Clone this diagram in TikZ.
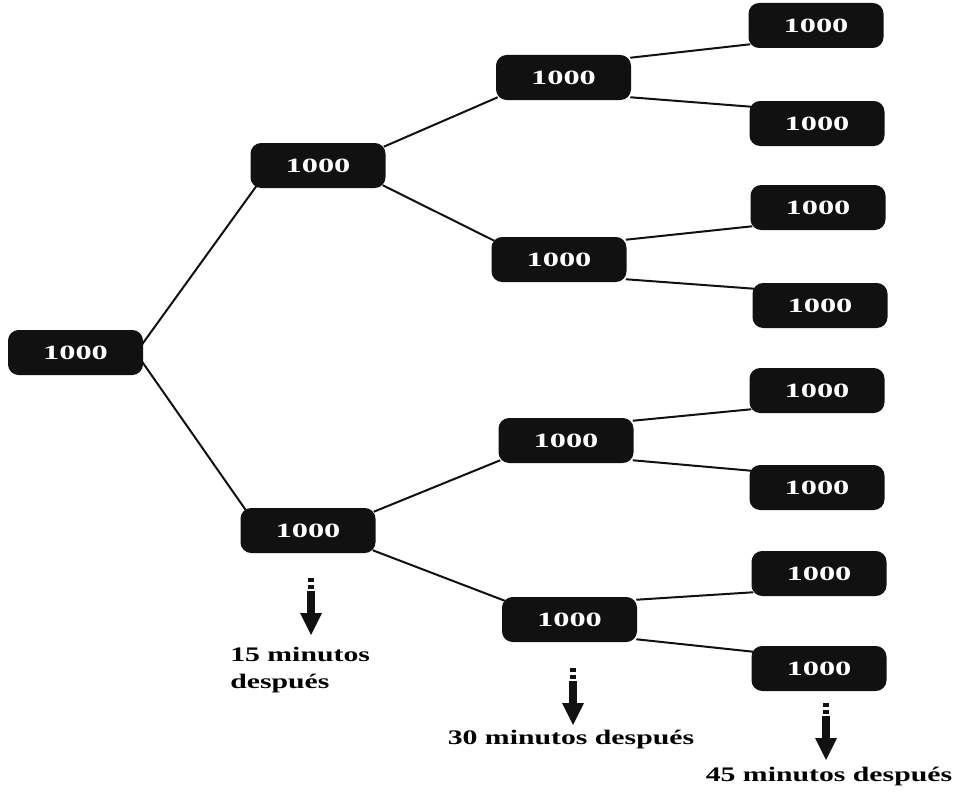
\documentclass[tikz,border=0pt]{standalone}
\usepackage{fontspec}
\usetikzlibrary{calc}
\newfontfamily\nodefont[FakeStretch=1.6]{Liberation Serif}
\newfontfamily\capfont[FakeStretch=1.44]{Liberation Serif}
\definecolor{boxblack}{HTML}{111111}
\tikzset{
  countbox/.style={fill=boxblack, rounded corners=8pt, minimum width=101.25pt,
    minimum height=33.75pt, inner sep=0pt, text=white,
    font=\nodefont\bfseries\fontsize{15.2}{17}\selectfont},
  link/.style={line width=1.5pt, draw=boxblack},
  timecap/.style={inner sep=0pt, text=black, align=left,
    font=\capfont\bfseries\fontsize{15.5}{20}\selectfont},
  timearrow/.pic={
    \fill[boxblack] (-3,0) rectangle (3,4);
    \fill[boxblack] (-3,6.5) rectangle (3,11);
    \fill[boxblack] (-4,12.5) rectangle (4,35.5);
    \fill[boxblack] (-11,35) -- (11,35) -- (0,57) -- cycle;
  }
}
\begin{document}
\begin{tikzpicture}[x=0.75pt,y=-0.75pt]
\useasboundingbox (0,0) rectangle (956,792);
\fill[white] (0,0) rectangle (956,792);
% nodes
\node[countbox] (root) at (75.5,352.5) {1000};
\node[countbox] (n1) at (318,165.5) {1000};
\node[countbox] (n2) at (308,530.5) {1000};
\node[countbox] (a) at (563.5,77.5) {1000};
\node[countbox] (b) at (559,259.5) {1000};
\node[countbox] (c) at (566,440.5) {1000};
\node[countbox] (d) at (569.5,619.5) {1000};
\node[countbox] (a1) at (816,25.5) {1000};
\node[countbox] (a2) at (817,123.5) {1000};
\node[countbox] (b1) at (818,207.5) {1000};
\node[countbox] (b2) at (820,305.5) {1000};
\node[countbox] (c1) at (817,390.5) {1000};
\node[countbox] (c2) at (817,487.5) {1000};
\node[countbox] (d1) at (819,573.5) {1000};
\node[countbox] (d2) at (819,668.5) {1000};
% connectors
\draw[link] ($(root.east)+(-2,-7)$) -- ($(n1.south west)+(6,-2)$);
\draw[link] ($(root.east)+(-2,8)$) -- ($(n2.north west)+(6,3)$);
\foreach \p/\u/\l in {n1/a/b, n2/c/d}{
  \draw[link] ($(\p.north east)+(-2,4)$) -- ($(\u.south west)+(2,-3)$);
  \draw[link] ($(\p.south east)+(-3,-3)$) -- ($(\l.north west)+(3,4)$);
}
\foreach \p/\u/\l in {a/a1/a2, b/b1/b2, c/c1/c2, d/d1/d2}{
  \draw[link] ($(\p.north east)+(-1,3)$) -- ($(\u.south west)+(2,-4)$);
  \draw[link] ($(\p.south east)+(-1,-3)$) -- ($(\l.north west)+(2,6)$);
}
% time arrows and captions
\pic at (311,578) {timearrow};
\pic at (573,668) {timearrow};
\pic at (826,703) {timearrow};
\node[timecap, anchor=west] (t15) at (230,670) {15 minutos\\después};
\node[timecap] (t30) at (571,740) {30 minutos después};
\node[timecap] (t45) at (829,777) {45 minutos después};
\end{tikzpicture}
\end{document}
